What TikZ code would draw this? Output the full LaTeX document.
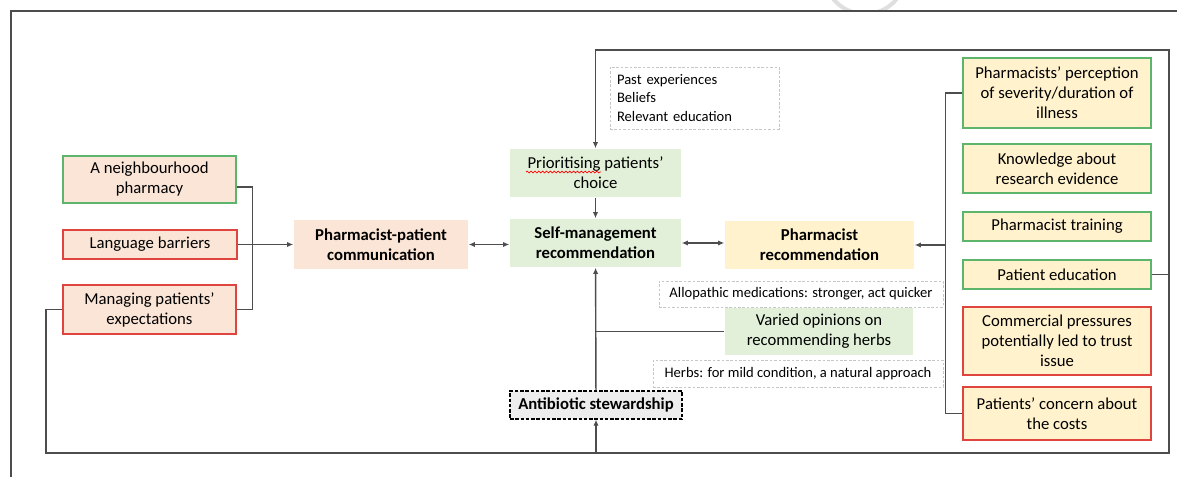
\documentclass[tikz,border=0pt]{standalone}
\usepackage{fontspec}
\setmainfont{Carlito}
\usetikzlibrary{arrows.meta}
\usetikzlibrary{positioning}
\usetikzlibrary{calc}
\usetikzlibrary{decorations.pathmorphing}
\definecolor{peach}{HTML}{FBE5D6}
\definecolor{mint}{HTML}{E2F0D9}
\definecolor{cream}{HTML}{FFF2CC}
\definecolor{stone}{HTML}{EDEDED}
\definecolor{okline}{HTML}{5DB56B}
\definecolor{badline}{HTML}{E0443F}
\definecolor{wirecol}{HTML}{4D4D4D}
\tikzset{
  sz/.style 2 args={minimum width=#1*0.02cm, minimum height=#2*0.02cm},
  factor/.style={align=center, inner sep=0pt, font=\fontsize{9.5}{11.4}\selectfont, line width=0.8pt},
  theme/.style={factor, font=\fontsize{9.5}{11.4}\selectfont\bfseries},
  note/.style={inner ysep=0pt, font=\fontsize{8.3}{10.4}\selectfont, draw=gray!45, line width=0.4pt, dash pattern=on 1.5pt off 1pt},
  wire/.style={draw=wirecol, line width=0.8pt},
  arr/.style={wire, -{Latex[length=3.5pt,width=3pt]}},
  darr/.style={wire, {Latex[length=3.5pt,width=3pt]}-{Latex[length=3.5pt,width=3pt]}},
}

\begin{document}
\begin{tikzpicture}[x=0.02cm, y=-0.02cm]
  \useasboundingbox (0,0) rectangle (1177,477);

  % watermark and frame
  \begin{scope}
    \clip (0,0) rectangle (1177,10.5);
    \draw[gray!25, line width=2.3pt] (865,-27) circle[radius=41];
  \end{scope}
  \draw[black!70, line width=0.6pt] (11,477) -- (11,11) -- (1177,11);

  % left factors
  \node[factor, fill=peach, draw=okline, sz={173}{47}] (neigh) at (149.5,179.5) {A neighbourhood\\pharmacy};
  \node[factor, fill=peach, draw=badline, sz={174}{29}] (lang) at (150,244.5) {Language barriers};
  \node[factor, fill=peach, draw=badline, sz={173}{49}] (manage) at (149.5,309.5) {Managing patients’\\expectations};

  % main themes
  \node[theme, fill=peach, sz={174}{49}] (comm) at (381,244.5) {Pharmacist-patient\\communication};
  \node[theme, fill=mint, sz={171}{48}] (self) at (595.5,243) {Self-management\\recommendation};
  \node[factor, fill=mint, sz={171}{48}] (prior) at (595.5,173) {Prioritising patients’\\choice};
  \node[theme, fill=cream, sz={189}{48}] (pharm) at (819.5,245) {Pharmacist\\recommendation};
  \node[theme, fill=stone, draw=black, dash pattern=on 2pt off 1pt, line width=0.6pt, sz={172}{28}] (anti) at (596,405) {Antibiotic stewardship};

  % notes
  \node[note, align=left, inner xsep=0.14cm, text width=3.1cm, minimum height=1.24cm] (past) at (694.5,98) {Past experiences\\Beliefs\\Relevant education};
  \node[note, align=center, inner xsep=0pt, sz={284}{26}] (allop) at (801,294) {Allopathic medications: stronger, act quicker};
  \node[factor, fill=mint, sz={188}{47}] (varied) at (819,331.5) {Varied opinions on\\recommending herbs};
  \node[note, align=center, inner xsep=0pt, sz={290}{27}] (herbs) at (798,373.5) {Herbs: for mild condition, a natural approach};

  % spell check mark
  \draw[red, line width=0.4pt, decorate, decoration={snake, amplitude=0.5pt, segment length=2.2pt}] (526,172) -- (601,172);

  % right factors
  \node[factor, fill=cream, draw=okline, sz={188}{70}] (percep) at (1057,93) {Pharmacists’ perception\\of severity/duration of\\illness};
  \node[factor, fill=cream, draw=okline, sz={188}{49}] (know) at (1057,168.5) {Knowledge about\\research evidence};
  \node[factor, fill=cream, draw=okline, sz={188}{29}] (train) at (1057,226.5) {Pharmacist training};
  \node[factor, fill=cream, draw=okline, sz={188}{29}] (edu) at (1057,274.5) {Patient education};
  \node[factor, fill=cream, draw=badline, sz={188}{68}] (commer) at (1057,341) {Commercial pressures\\potentially led to trust\\issue};
  \node[factor, fill=cream, draw=badline, sz={188}{53}] (cost) at (1057,413.5) {Patients’ concern about\\the costs};

  % left connectors
  \draw[wire] ([yshift=-0.15cm]neigh.east) -- ++(16,0) |- (manage.east);
  \draw[arr] (lang.east) -- (comm.west);
  \draw[darr] (comm.east) -- (comm.east -| self.west);
  \draw[darr] (self.east) -- (self.east -| pharm.west);
  \draw[arr] (prior) -- (self);
  \draw[arr] (anti) -- (self);
  \draw[wire] (varied.west) -- (varied.west -| anti.north);

  % right bracket
  \draw[wire] (percep.west) -- ++(-17,0) coordinate (rb) |- (cost.west);
  \draw[arr] (rb |- pharm.east) -- (pharm.east);

  % feedback loops
  \coordinate (ne) at (1169,50);
  \coordinate (se) at (1169,453);
  \coordinate (sw) at (46,453);
  \draw[arr] (edu.east) -| (ne) -| (prior.north);
  \draw[arr] (edu.east) -| (se) -| (anti.south);
  \draw[wire] (manage.west) -| (sw) -- (sw -| anti.south);

\end{tikzpicture}
\end{document}
